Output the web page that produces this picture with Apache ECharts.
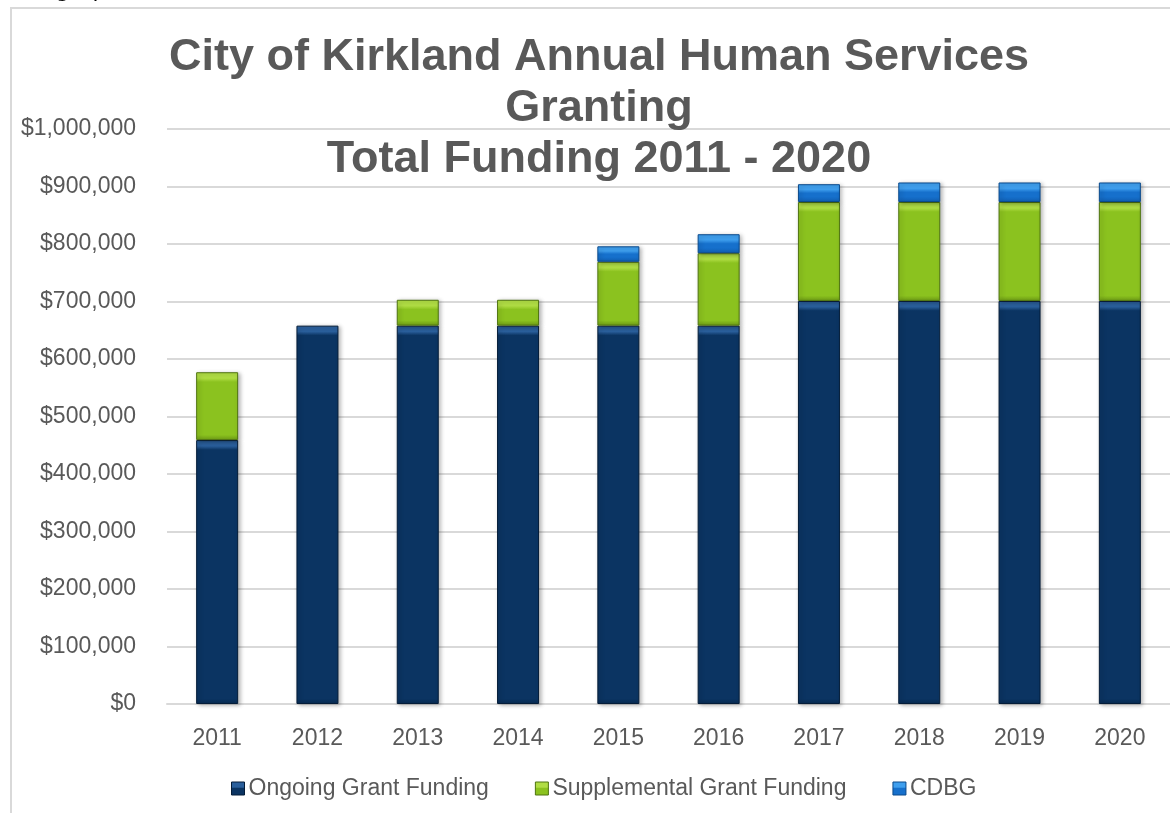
<!DOCTYPE html>
<html>
<head>
<meta charset="utf-8">
<script src="https://cdn.jsdelivr.net/npm/echarts@6/dist/echarts.min.js"></script>
<style>
html,body{margin:0;padding:0;background:#fff;}
#c{width:1170px;height:813px;}
</style>
</head>
<body>
<div id="c"></div>
<script>
const titleLines = ['City of Kirkland Annual Human Services', 'Granting', 'Total Funding 2011 - 2020'];
const years = ['2011','2012','2013','2014','2015','2016','2017','2018','2019','2020'];
const ongoing = [459000, 658000, 658000, 658000, 658000, 658000, 701000, 701000, 701000, 701000];
const supplemental = [118000, null, 45000, 45000, 111000, 126000, 172000, 172000, 172000, 172000];
const cdbg = [null, null, null, null, 27000, 33000, 31000, 34000, 34000, 34000];
const seriesNames = ['Ongoing Grant Funding', 'Supplemental Grant Funding', 'CDBG'];
const yMin = 0, yMax = 1000000, yStep = 100000;

// bevel depth expressed in value units (about 10px at this scale)
const bevelTop = 17000, bevelBottom = 9000;

const styles = [
  {top: '#2a5f9c', mid: '#0b3462', low: '#072a52', border: '#041c38'},
  {top: '#b0dd44', mid: '#8bc21f', low: '#6f9e16', border: '#4f7410'},
  {top: '#3f9fee', mid: '#1670cc', low: '#1160b4', border: '#0a4a8c'}
];

function bevelGrad(st, v) {
  const ft = Math.min(0.5, bevelTop / v);
  const fb = Math.min(0.3, bevelBottom / v);
  return new echarts.graphic.LinearGradient(0, 0, 0, 1, [
    {offset: 0, color: st.top},
    {offset: ft * 0.6, color: st.top},
    {offset: ft, color: st.mid},
    {offset: Math.max(1 - fb, ft + 0.003), color: st.mid},
    {offset: 1, color: st.low}
  ]);
}
function legendGrad(st) {
  return new echarts.graphic.LinearGradient(0, 0, 0, 1, [
    {offset: 0, color: st.top},
    {offset: 0.4, color: st.top},
    {offset: 0.5, color: st.mid},
    {offset: 1, color: st.mid}
  ]);
}
const dataSets = [ongoing, supplemental, cdbg];

const chart = echarts.init(document.getElementById('c'), null, {renderer: 'canvas'});
const fontFam = "'Liberation Sans', Arial, sans-serif";

chart.setOption({
  animation: false,
  backgroundColor: '#ffffff',
  title: {
    text: titleLines.join('\n'),
    left: 594,
    top: 27,
    textAlign: 'center',
    textStyle: {
      fontFamily: "'Liberation Sans', Arial, sans-serif",
      fontWeight: 'bold',
      fontSize: 45,
      lineHeight: 51,
      color: '#595959'
    }
  },
  graphic: [
    {
      type: 'rect',
      shape: {x: 11, y: 8, width: 1200, height: 900},
      style: {fill: 'none', stroke: '#d9d9d9', lineWidth: 2},
      silent: true, z: -1
    },
    {
      type: 'text',
      x: 13,
      y: 2,
      style: {text: 'the graph below.', font: "22px 'DejaVu Sans', sans-serif", fill: '#000000', verticalAlign: 'bottom'},
      silent: true
    }
  ],
  legend: {
    data: seriesNames.map((n, i) => ({name: n, itemStyle: {color: legendGrad(styles[i]), borderColor: styles[i].border, borderWidth: 1}})),
    left: 226,
    top: 772,
    icon: 'rect',
    itemWidth: 13,
    itemHeight: 13,
    itemGap: 46,
    textStyle: {fontFamily: fontFam, fontSize: 23, color: '#595959', padding: [0, 0, 0, -1]}
  },
  grid: {left: 167, right: 0, top: 129, bottom: 109, containLabel: false},
  xAxis: {
    type: 'category',
    data: years,
    axisLine: {show: true, lineStyle: {color: '#d9d9d9', width: 2}},
    axisTick: {show: false},
    axisLabel: {fontFamily: fontFam, fontSize: 23, color: '#595959', margin: 23}
  },
  yAxis: {
    type: 'value',
    min: yMin, max: yMax, interval: yStep,
    axisLine: {show: false},
    axisTick: {show: false},
    splitLine: {lineStyle: {color: '#d9d9d9', width: 2}},
    axisLabel: {
      fontFamily: fontFam, fontSize: 23, color: '#595959', margin: 31,
      formatter: v => '$' + v.toLocaleString('en-US')
    }
  },
  series: dataSets.map((d, i) => ({
    name: seriesNames[i],
    type: 'bar',
    stack: 'total',
    barWidth: 42,
    data: d.map(v => v == null ? null : {value: v, itemStyle: {color: bevelGrad(styles[i], v)}}),
    itemStyle: {
      borderColor: styles[i].border,
      borderWidth: 1,
      shadowColor: 'rgba(0,0,0,0.28)',
      shadowBlur: 4,
      shadowOffsetX: 2,
      shadowOffsetY: 1
    }
  }))
});
</script>
</body>
</html>
